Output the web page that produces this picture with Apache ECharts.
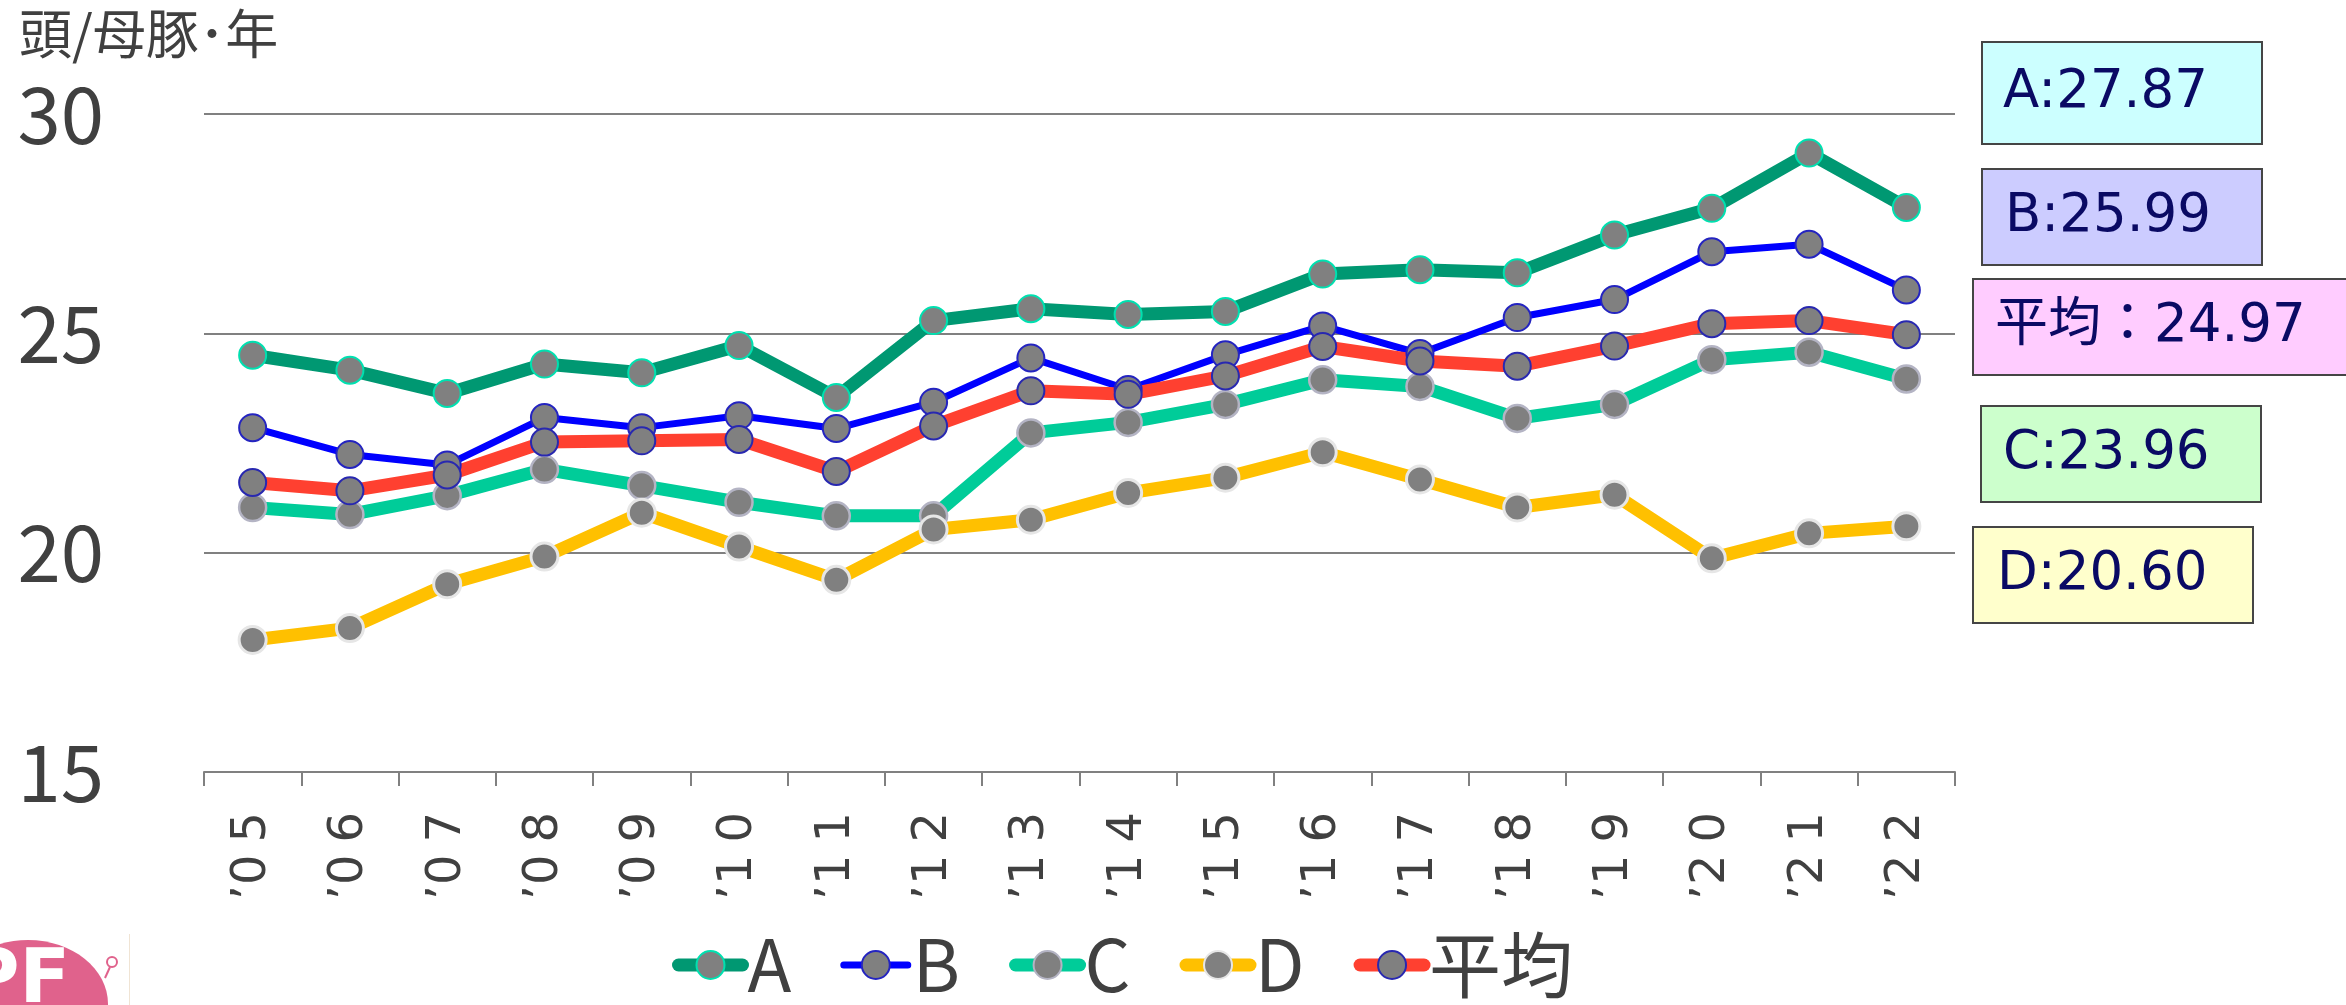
<!DOCTYPE html>
<html>
<head>
<meta charset="utf-8">
<script src="https://cdn.jsdelivr.net/npm/echarts@6/dist/echarts.min.js"></script>
<style>
html, body { margin: 0; padding: 0; background: #ffffff; }
#chart { width: 2346px; height: 1005px; }
</style>
</head>
<body>
<div id="chart"></div>
<script>
// Years on the category axis
const years = ['’05', '’06', '’07', '’08', '’09', '’10', '’11', '’12', '’13',
               '’14', '’15', '’16', '’17', '’18', '’19', '’20', '’21', '’22'];

// Weaned piglets per sow per year, by farm group
const seriesA   = [24.50, 24.16, 23.63, 24.30, 24.10, 24.72, 23.54, 25.29, 25.56, 25.43, 25.50, 26.35, 26.45, 26.38, 27.24, 27.85, 29.11, 27.87];
const seriesB   = [22.85, 22.24, 22.00, 23.08, 22.85, 23.12, 22.83, 23.43, 24.44, 23.72, 24.51, 25.17, 24.54, 25.36, 25.77, 26.86, 27.03, 25.99];
const seriesC   = [21.03, 20.87, 21.30, 21.90, 21.53, 21.15, 20.84, 20.84, 22.73, 22.97, 23.38, 23.94, 23.79, 23.06, 23.38, 24.40, 24.57, 23.96];
const seriesD   = [18.01, 18.28, 19.28, 19.91, 20.91, 20.14, 19.38, 20.53, 20.75, 21.36, 21.71, 22.29, 21.67, 21.03, 21.32, 19.87, 20.44, 20.60];
const seriesAvg = [21.60, 21.41, 21.77, 22.52, 22.55, 22.58, 21.85, 22.89, 23.69, 23.61, 24.03, 24.70, 24.37, 24.25, 24.71, 25.22, 25.29, 24.97];

// Value axis ticks
const yTicks = [15, 20, 25, 30];

const last = arr => arr[arr.length - 1];

const chart = echarts.init(document.getElementById('chart'), null, { renderer: 'canvas' });

function lineSeries(name, data, lineColor, lineWidth, borderColor, borderWidth) {
  return {
    name: name,
    type: 'line',
    data: data,
    symbol: 'circle',
    symbolSize: 27,
    showAllSymbol: true,
    itemStyle: { color: '#808080', borderColor: borderColor, borderWidth: borderWidth },
    lineStyle: { color: lineColor, width: lineWidth, join: 'round', cap: 'round' },
    emphasis: { disabled: true }
  };
}

// Value boxes at the right edge, built from each series' latest value
function valueBox(x, y, w, h, fill, textX, label) {
  return {
    type: 'group',
    children: [
      { type: 'rect', shape: { x: x, y: y, width: w, height: h },
        style: { fill: fill, stroke: '#454545', lineWidth: 2 } },
      { type: 'text', x: textX, y: y + h / 2,
        style: { text: label, fill: '#0a0a64', font: '53px "DejaVu Sans", "Noto Sans CJK JP", sans-serif',
                 textAlign: 'left', textVerticalAlign: 'middle' } }
    ]
  };
}

const option = {
  animation: false,
  backgroundColor: '#ffffff',
  title: {
    text: '頭/母豚･年',
    left: 14,
    top: 2,
    textStyle: { fontFamily: 'Noto Sans CJK JP', fontSize: 53, fontWeight: 'normal', color: '#404040' }
  },
  grid: { left: 204, right: 391, top: 114, bottom: 233, containLabel: false },
  xAxis: {
    type: 'category',
    data: years,
    boundaryGap: true,
    axisLine: { lineStyle: { color: '#808080', width: 2 } },
    axisTick: { show: true, length: 14, lineStyle: { color: '#808080', width: 2 } },
    axisLabel: {
      rotate: 90,
      margin: 40,
      color: '#404040',
      fontFamily: 'DejaVu Sans',
      fontSize: 48,
      formatter: v => v.charAt(0) + v.slice(1).split('').join('\u2005')
    },
    splitLine: { show: false }
  },
  yAxis: {
    type: 'value',
    min: yTicks[0],
    max: yTicks[yTicks.length - 1],
    interval: 5,
    axisLine: { show: false },
    axisTick: { show: false },
    axisLabel: { margin: 100, color: '#404040', fontFamily: 'Noto Sans CJK JP', fontSize: 78 },
    splitLine: { lineStyle: { color: '#808080', width: 2 } }
  },
  legend: {
    left: 667,
    top: 924,
    orient: 'horizontal',
    itemWidth: 64,
    itemHeight: 35,
    itemGap: 49,
    selectedMode: false,
    lineStyle: { width: 'inherit', cap: 'round' },
    textStyle: { fontFamily: 'Noto Sans CJK JP', fontSize: 72, color: '#404040', lineHeight: 72 },
    data: ['A', 'B', 'C', 'D', '平均']
  },
  series: [
    lineSeries('A', seriesA, '#009872', 13, '#00e0b0', 2),
    lineSeries('B', seriesB, '#0000ff', 7, '#2424c0', 2),
    lineSeries('C', seriesC, '#00cc99', 13, '#b4b4c4', 2.5),
    lineSeries('D', seriesD, '#ffc000', 13, '#e6e6e6', 3),
    lineSeries('平均', seriesAvg, '#ff4030', 13, '#2828b0', 2)
  ],
  graphic: [
    valueBox(1982, 42, 280, 102, '#ccffff', 2003, 'A:' + last(seriesA).toFixed(2)),
    valueBox(1982, 169, 280, 96, '#ccccff', 2005, 'B:' + last(seriesB).toFixed(2)),
    valueBox(1973, 279, 380, 96, '#ffccff', 1995, '平均：' + last(seriesAvg).toFixed(2)),
    valueBox(1981, 406, 280, 96, '#ccffcc', 2003, 'C:' + last(seriesC).toFixed(2)),
    valueBox(1973, 527, 280, 96, '#ffffcc', 1997, 'D:' + last(seriesD).toFixed(2)),
    // Logo mark in the lower-left corner
    {
      type: 'group',
      children: [
        { type: 'ellipse', shape: { cx: 28, cy: 1004, rx: 80, ry: 64 }, style: { fill: '#e0628c' } },
        { type: 'text', x: 70, y: 946,
          style: { text: 'PF', fill: '#ffffff', font: 'bold 74px "DejaVu Sans", sans-serif',
                   textAlign: 'right', textVerticalAlign: 'top' } },
        { type: 'circle', shape: { cx: 112, cy: 962, r: 5 }, style: { fill: 'none', stroke: '#e0628c', lineWidth: 2 } },
        { type: 'line', shape: { x1: 105, y1: 978, x2: 110, y2: 967 }, style: { stroke: '#e0628c', lineWidth: 2 } },
        { type: 'line', shape: { x1: 129.5, y1: 934, x2: 129.5, y2: 1005 }, style: { stroke: '#f0e4d4', lineWidth: 1 } }
      ]
    }
  ]
};

chart.setOption(option);
</script>
</body>
</html>
